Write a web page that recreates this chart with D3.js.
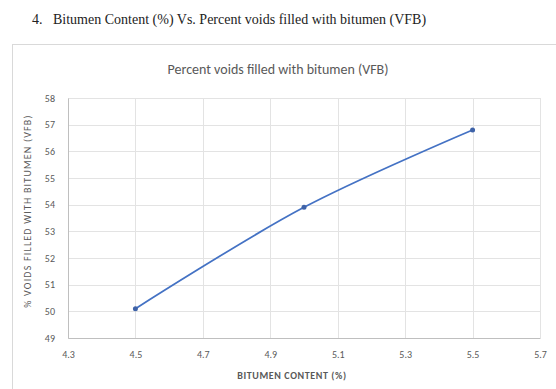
<!DOCTYPE html>
<html>
<head>
<meta charset="utf-8">
<script src="https://cdn.jsdelivr.net/npm/d3@7"></script>
<style>
  body { margin: 0; background: #fff; }
  svg { display: block; }
</style>
</head>
<body>
<svg id="chart" width="556" height="389"></svg>
<script>
// data
const bitumen = [4.5, 5.0, 5.5];
const vfb = [50.1, 53.9, 56.8];
const xTicks = [4.3, 4.5, 4.7, 4.9, 5.1, 5.3, 5.5, 5.7];
const yTicks = [49, 50, 51, 52, 53, 54, 55, 56, 57, 58];

const svg = d3.select("#chart");
const margin = { top: 98, right: 16, bottom: 51, left: 68 };
const width = 556 - margin.left - margin.right;
const height = 389 - margin.top - margin.bottom;
const sans = "Carlito, 'Open Sans', 'Noto Sans', sans-serif";

// document heading
svg.append("text")
    .attr("x", 32).attr("y", 24)
    .style("font-family", "'Liberation Serif', 'DejaVu Serif', serif")
    .style("font-size", "14px")
    .attr("fill", "#222")
    .text("4.\u00A0\u00A0 Bitumen Content (%) Vs. Percent voids filled with bitumen (VFB)");

// chart frame
svg.append("rect")
    .attr("x", 12.5).attr("y", 44.5)
    .attr("width", 560).attr("height", 360)
    .attr("fill", "#fff")
    .attr("stroke", "#d9d9d9");

svg.append("text")
    .attr("x", 278).attr("y", 74)
    .attr("text-anchor", "middle")
    .style("font-family", sans)
    .style("font-size", "14px")
    .attr("fill", "#595959")
    .text("Percent voids filled with bitumen (VFB)");

const g = svg.append("g")
    .attr("transform", `translate(${margin.left}, ${margin.top})`);

const x = d3.scaleLinear().domain([4.3, 5.7]).range([0, width]);
const y = d3.scaleLinear().domain([49, 58]).range([height, 0]);

// gridlines
g.selectAll(".ygrid")
    .data(yTicks)
    .enter().append("line")
    .attr("x1", 0).attr("x2", width)
    .attr("y1", d => Math.round(y(d)) + 0.5)
    .attr("y2", d => Math.round(y(d)) + 0.5)
    .attr("stroke", "#e3e3e3");

g.selectAll(".xgrid")
    .data(xTicks)
    .enter().append("line")
    .attr("y1", 0).attr("y2", height)
    .attr("x1", d => Math.round(x(d)) + 0.5)
    .attr("x2", d => Math.round(x(d)) + 0.5)
    .attr("stroke", "#e3e3e3");

// axes
const xAxis = g.append("g")
    .attr("transform", `translate(0, ${height})`)
    .call(d3.axisBottom(x).tickValues(xTicks).tickFormat(d3.format(".1f")).tickSize(0).tickPadding(13));

const yAxis = g.append("g")
    .call(d3.axisLeft(y).tickValues(yTicks).tickSize(0).tickPadding(13));

[xAxis, yAxis].forEach(a => {
    a.select(".domain").attr("stroke", "#bfbfbf");
    a.selectAll("text")
        .style("font-family", sans)
        .style("font-size", "10px")
        .attr("fill", "#595959");
});

// axis titles
svg.append("text")
    .attr("x", 292).attr("y", 379)
    .attr("text-anchor", "middle")
    .style("font-family", sans)
    .style("font-size", "10px")
    .style("font-weight", "bold")
    .style("letter-spacing", "0.6px")
    .attr("fill", "#595959")
    .text("BITUMEN CONTENT (%)");

svg.append("text")
    .attr("transform", "translate(31, 211) rotate(-90)")
    .attr("text-anchor", "middle")
    .style("font-family", sans)
    .style("font-size", "10px")
    .style("letter-spacing", "1.2px")
    .attr("fill", "#595959")
    .text("% VOIDS FILLED WITH BITUMEN (VFB)");

// series
const points = bitumen.map((b, i) => ({ b: b, v: vfb[i] }));

const line = d3.line()
    .x(d => x(d.b))
    .y(d => y(d.v))
    .curve(d3.curveCatmullRom.alpha(0.5));

g.append("path")
    .datum(points)
    .attr("d", line)
    .attr("fill", "none")
    .attr("stroke", "#4472c4")
    .attr("stroke-width", 1.75);

g.selectAll(".dot")
    .data(points)
    .enter().append("circle")
    .attr("cx", d => x(d.b))
    .attr("cy", d => y(d.v))
    .attr("r", 2.5)
    .attr("fill", "#3f63a8");
</script>
</body>
</html>
